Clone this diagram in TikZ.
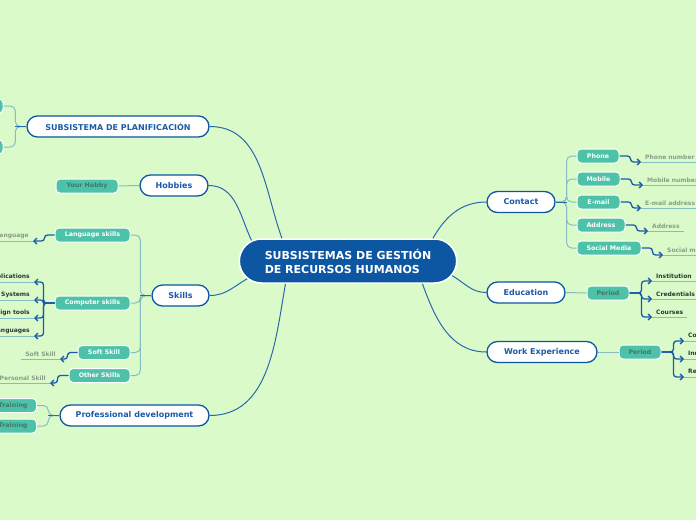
\documentclass[tikz,border=0pt]{standalone}
\usepackage{fontspec}
\setmainfont{DejaVu Sans}
\usetikzlibrary{shapes.misc, arrows.meta, positioning}
\definecolor{bgGreen}{HTML}{DAFBC9}
\definecolor{rootBlue}{HTML}{0C56A2}
\definecolor{lineBlue}{HTML}{2A69AB}
\definecolor{arrowBlue}{HTML}{1A5AA8}
\definecolor{tealFill}{HTML}{4EC1A9}
\definecolor{tealLine}{HTML}{86BDC0}
\definecolor{tealText}{HTML}{3E7A6B}
\definecolor{leafGray}{HTML}{8B9C88}
\definecolor{leafDark}{HTML}{2E3636}

\begin{document}
\begin{tikzpicture}
  [x=1pt, y=1pt,
    Root/.style={rounded rectangle, draw=white, line width=1.5pt, fill=rootBlue, text=white,
      font=\fontsize{11}{14}\selectfont\bfseries, align=left, minimum width=224pt, minimum height=44pt},
    Branch/.style={rounded rectangle, draw=rootBlue, line width=1.3pt, fill=white, text=arrowBlue,
      font=\fontsize{8}{9}\selectfont\bfseries, minimum height=21pt, inner xsep=0pt},
    Teal/.style={rectangle, rounded corners=4pt, draw=white, line width=1pt, fill=tealFill, text=white,
      font=\fontsize{6.3}{7}\selectfont\bfseries, minimum height=14pt, inner xsep=0pt},
    TealDim/.style={Teal, text=tealText},
    Leaf/.style={inner xsep=4pt, inner ysep=2.5pt, text=leafGray, font=\fontsize{6}{7}\selectfont\bfseries},
    LeafDark/.style={Leaf, text=leafDark},
    Trunk/.style={draw=lineBlue, line width=1pt},
    Twig/.style={draw=tealLine, line width=1pt, rounded corners=5pt},
    Step/.style={draw=arrowBlue, line width=1.3pt, rounded corners=3pt, -{Straight Barb[length=3pt, width=6pt]}},
    Under/.style={draw=tealLine, line width=1pt}
  ]
  \useasboundingbox (0,0) rectangle (696,-520);
  \clip (0,0) rectangle (696,-520);
  \fill[bgGreen] (0,0) rectangle (696,-520);

  % Nodes
  \node[Root] (root) at (348,-261) {SUBSISTEMAS DE GESTIÓN\\DE RECURSOS HUMANOS};

  \node[Branch, minimum width=182pt] (plan) at (118,-126.5) {SUBSISTEMA DE PLANIFICACIÓN};
  \node[Branch, minimum width=68pt] (hobbies) at (174,-185.5) {Hobbies};
  \node[Branch, minimum width=57pt] (skills) at (180.5,-295.5) {Skills};
  \node[Branch, minimum width=149pt] (profdev) at (134.5,-415.5) {Professional development};
  \node[Branch, minimum width=68pt] (contact) at (521,-202) {Contact};
  \node[Branch, minimum width=78pt] (education) at (526,-292.5) {Education};
  \node[Branch, minimum width=110pt] (work) at (542,-352) {Work Experience};

  \node[Teal, minimum width=60pt] (plan1) at (-27,-106) {};
  \node[Teal, minimum width=60pt] (plan2) at (-27,-147) {};
  \node[TealDim, minimum width=62pt] (yourhobby) at (87,-186) {Your Hobby};
  \node[Teal, minimum width=75pt] (langskills) at (92.5,-235) {Language skills};
  \node[Teal, minimum width=75pt] (compskills) at (92.5,-303) {Computer skills};
  \node[Teal, minimum width=52pt] (softskill) at (104,-352.5) {Soft Skill};
  \node[Teal, minimum width=61pt] (otherskills) at (99.5,-375.5) {Other Skills};
  \node[TealDim, anchor=east, inner xsep=9pt, text width=50pt, align=right] (training1) at (37,-405.5) {Training};
  \node[TealDim, anchor=east, inner xsep=9pt, text width=50pt, align=right] (training2) at (37,-426) {Training};

  \node[Teal, minimum width=42pt] (phone) at (598,-156) {Phone};
  \node[Teal, minimum width=43pt] (mobile) at (598.5,-179) {Mobile};
  \node[Teal, minimum width=43pt] (email) at (598.5,-202) {E-mail};
  \node[Teal, minimum width=48pt] (address) at (601,-225) {Address};
  \node[Teal, minimum width=64pt] (social) at (609,-248) {Social Media};
  \node[TealDim, minimum width=42pt] (period1) at (608,-293) {Period};
  \node[TealDim, minimum width=42pt] (period2) at (640,-352) {Period};

  \node[Leaf, anchor=south west] (phonenum) at (641,-162) {Phone number};
  \node[Leaf, anchor=south west] (mobilenum) at (643,-185) {Mobile number};
  \node[Leaf, anchor=south west] (emailaddr) at (641,-208) {E-mail address};
  \node[Leaf, anchor=south west] (postaddr) at (648,-231) {Address};
  \node[Leaf, anchor=south west] (socialmedia) at (663,-255) {Social media};
  \node[LeafDark, anchor=south west] (institution) at (652,-281) {Institution};
  \node[LeafDark, anchor=south west] (credentials) at (652,-299) {Credentials};
  \node[LeafDark, anchor=south west] (courses) at (652,-317) {Courses};
  \node[LeafDark, anchor=south west] (company) at (684,-341) {Company};
  \node[LeafDark, anchor=south west] (industry) at (684,-359) {Industry};
  \node[LeafDark, anchor=south west] (results) at (684,-377) {Responsibilities};

  \node[Leaf, anchor=south east] (language) at (33,-241) {Language};
  \node[LeafDark, anchor=south east] (apps) at (34,-282) {Applications};
  \node[LeafDark, anchor=south east] (opsys) at (34,-300) {Operating Systems};
  \node[LeafDark, anchor=south east] (design) at (34,-318) {Design tools};
  \node[LeafDark, anchor=south east] (proglang) at (34,-336) {Programming Languages};
  \node[Leaf, anchor=south east] (soft) at (60,-359) {Soft Skill};
  \node[Leaf, anchor=south east] (personal) at (50,-383) {Personal Skill};

  % Lines
  \draw[Trunk] (plan.east) to[out=0, in=110] (root.161);
  \draw[Trunk] (hobbies.east) to[out=0, in=115] (root.168);
  \draw[Trunk] (skills.east) to[out=0, in=210] (root.190);
  \draw[Trunk] (profdev.east) to[out=0, in=-100] (root.200);
  \draw[Trunk] (contact.west) to[out=180, in=60] (root.15);
  \draw[Trunk] (education.west) to[out=180, in=-30] (root.352);
  \draw[Trunk] (work.west) to[out=180, in=-70] (root.343);

  \draw[Twig] (plan.west) -- ++(-11,0) |- (plan1.east);
  \draw[Twig] (plan.west) -- ++(-11,0) |- (plan2.east);
  \draw[Twig] (yourhobby.east) -- (hobbies.west);
  \draw[Twig] (skills.west) -- ++(-11,0) |- (langskills.east);
  \draw[Twig] (skills.west) -- ++(-11,0) |- (compskills.east);
  \draw[Twig] (skills.west) -- ++(-11,0) |- (softskill.east);
  \draw[Twig] (skills.west) -- ++(-11,0) |- (otherskills.east);
  \draw[Twig] (profdev.west) -- ++(-11,0) |- (training1.east);
  \draw[Twig] (profdev.west) -- ++(-11,0) |- (training2.east);
  \draw[Twig] (contact.east) -- ++(11,0) |- (phone.west);
  \draw[Twig] (contact.east) -- ++(11,0) |- (mobile.west);
  \draw[Twig] (contact.east) -- ++(11,0) |- (email.west);
  \draw[Twig] (contact.east) -- ++(11,0) |- (address.west);
  \draw[Twig] (contact.east) -- ++(11,0) |- (social.west);
  \draw[Twig] (education.east) -- (period1.west);
  \draw[Twig] (work.east) -- (period2.west);
  \draw[Trunk] (plan.west) -- ++(-11,0);
  \draw[Trunk] (skills.west) -- ++(-11,0);
  \draw[Trunk] (profdev.west) -- ++(-11,0);
  \draw[Trunk] (contact.east) -- ++(11,0);

  \draw[Step] (phone.east) -- ++(11,0) |- (phonenum.south west);
  \draw[Step] (mobile.east) -- ++(11,0) |- (mobilenum.south west);
  \draw[Step] (email.east) -- ++(11,0) |- (emailaddr.south west);
  \draw[Step] (address.east) -- ++(11,0) |- (postaddr.south west);
  \draw[Step] (social.east) -- ++(11,0) |- (socialmedia.south west);
  \foreach \leaf in {institution, credentials, courses}
    \draw[Step] (period1.east) -- ++(12,0) |- (\leaf.south west);
  \foreach \leaf in {company, industry, results}
    \draw[Step] (period2.east) -- ++(12,0) |- (\leaf.south west);
  \draw[Step] (langskills.west) -- ++(-10,0) |- (language.south east);
  \foreach \leaf in {apps, opsys, design, proglang}
    \draw[Step] (compskills.west) -- ++(-11,0) |- (\leaf.south east);
  \draw[Step] (softskill.west) -- ++(-10,0) |- (soft.south east);
  \draw[Step] (otherskills.west) -- ++(-11,0) |- (personal.south east);

  \foreach \leaf in {phonenum, mobilenum, emailaddr, postaddr, socialmedia,
      institution, credentials, courses, company, industry, results,
      language, apps, opsys, design, proglang, soft, personal}
    \draw[Under] (\leaf.south west) -- (\leaf.south east);
\end{tikzpicture}
\end{document}
